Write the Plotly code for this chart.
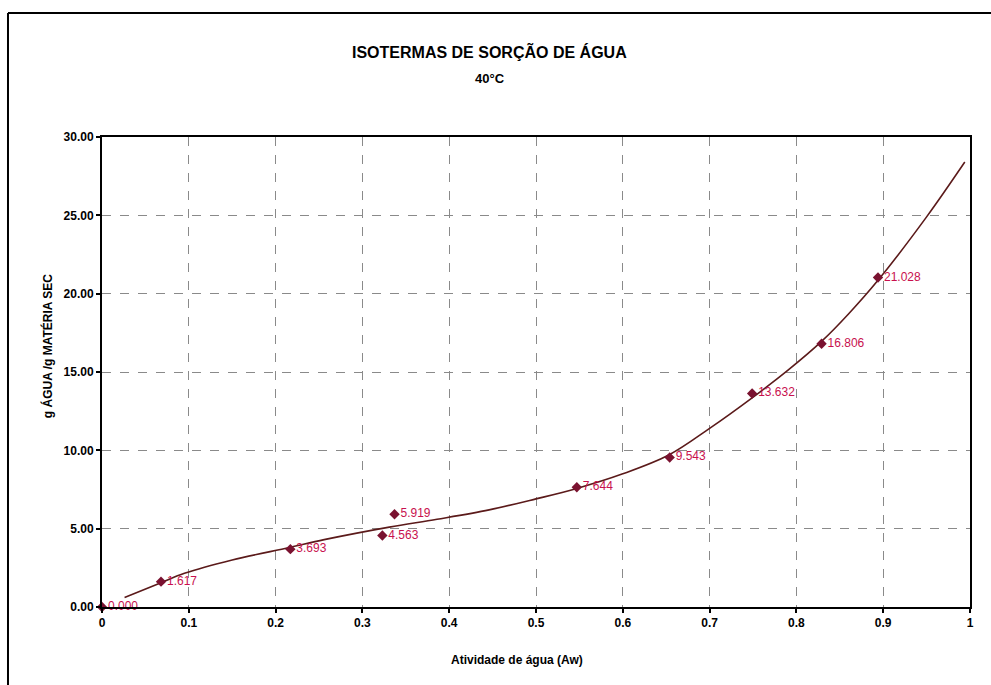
import plotly.graph_objects as go

# Measured sorption points: water activity vs moisture content (g water / g dry matter)
aw_points = [0.0, 0.068, 0.217, 0.323, 0.337, 0.547, 0.654, 0.749, 0.829, 0.894]
moisture_points = [0.000, 1.617, 3.693, 4.563, 5.919, 7.644, 9.543, 13.632, 16.806, 21.028]

# Fitted isotherm trend curve
trend_aw = [0.026, 0.068, 0.095, 0.15, 0.216, 0.256, 0.331, 0.386, 0.446, 0.50,
            0.546, 0.60, 0.653, 0.70, 0.749, 0.79, 0.829, 0.86, 0.894, 0.95, 0.994]
trend_moisture = [0.6, 1.55, 2.15, 3.0, 3.8, 4.3, 5.1, 5.6, 6.2, 6.9,
                  7.55, 8.5, 9.7, 11.4, 13.35, 15.1, 16.95, 18.7, 20.85, 24.9, 28.4]

x_ticks = [0, 0.1, 0.2, 0.3, 0.4, 0.5, 0.6, 0.7, 0.8, 0.9, 1.0]
x_tick_text = ["0", "0.1", "0.2", "0.3", "0.4", "0.5", "0.6", "0.7", "0.8", "0.9", "1"]
y_ticks = [0, 5, 10, 15, 20, 25, 30]
y_tick_text = ["0.00", "5.00", "10.00", "15.00", "20.00", "25.00", "30.00"]

FONT = "Liberation Sans, Arial, sans-serif"
LABEL_RED = "#c8104e"
MARKER_RED = "#7a1230"
LINE_COLOR = "#5b1a1a"

fig = go.Figure()

fig.add_trace(go.Scatter(
    x=trend_aw, y=trend_moisture, mode="lines",
    line=dict(color=LINE_COLOR, width=1.6, shape="spline", smoothing=1.0),
    hoverinfo="skip", showlegend=False,
))

fig.add_trace(go.Scatter(
    x=aw_points, y=moisture_points, mode="markers+text",
    marker=dict(symbol="diamond", size=8, color=MARKER_RED),
    text=[f"{v:.3f}" for v in moisture_points],
    textposition="middle right",
    textfont=dict(family=FONT, size=12, color=LABEL_RED),
    cliponaxis=False,
    showlegend=False,
))

axis_common = dict(
    showline=True, linecolor="black", linewidth=2, mirror=True,
    ticks="outside", ticklen=4, tickcolor="black", tickwidth=1.5,
    showgrid=True, gridcolor="#8a8a8a", gridwidth=1, griddash="dash",
    zeroline=False,
    tickfont=dict(family=FONT, size=12, color="black", weight="bold"),
)

fig.update_xaxes(range=[0, 1], tickvals=x_ticks, ticktext=x_tick_text, **axis_common)
fig.update_yaxes(range=[0, 30], tickvals=y_ticks, ticktext=y_tick_text, **axis_common)

annotations = [
    dict(text="<b>ISOTERMAS DE SORÇÃO DE ÁGUA</b>", x=0.447, y=1.181,
         font=dict(family=FONT, size=16, color="black")),
    dict(text="<b>40°C</b>", x=0.447, y=1.1255,
         font=dict(family=FONT, size=13, color="black")),
    dict(text="<b>g ÁGUA /g MATÉRIA SEC</b>", x=-0.0634, y=0.557, textangle=-90,
         font=dict(family=FONT, size=12, color="black")),
    dict(text="<b>Atividade de água (Aw)</b>", x=0.478, y=-0.113,
         font=dict(family=FONT, size=12, color="black")),
]
for a in annotations:
    a.update(xref="paper", yref="paper", showarrow=False, xanchor="center", yanchor="middle")

# Outer chart-area frame (top and left edges)
shapes = [
    dict(type="line", xref="paper", yref="paper", x0=-0.1083, x1=1.05, y0=1.2638, y1=1.2638,
         line=dict(color="black", width=2)),
    dict(type="line", xref="paper", yref="paper", x0=-0.1083, x1=-0.1083, y0=1.2638, y1=-0.2,
         line=dict(color="black", width=2)),
]

fig.update_layout(
    width=991, height=685,
    margin=dict(l=102, r=21, t=137, b=78),
    paper_bgcolor="white", plot_bgcolor="white",
    annotations=annotations, shapes=shapes,
)

fig.write_html("out.html")
